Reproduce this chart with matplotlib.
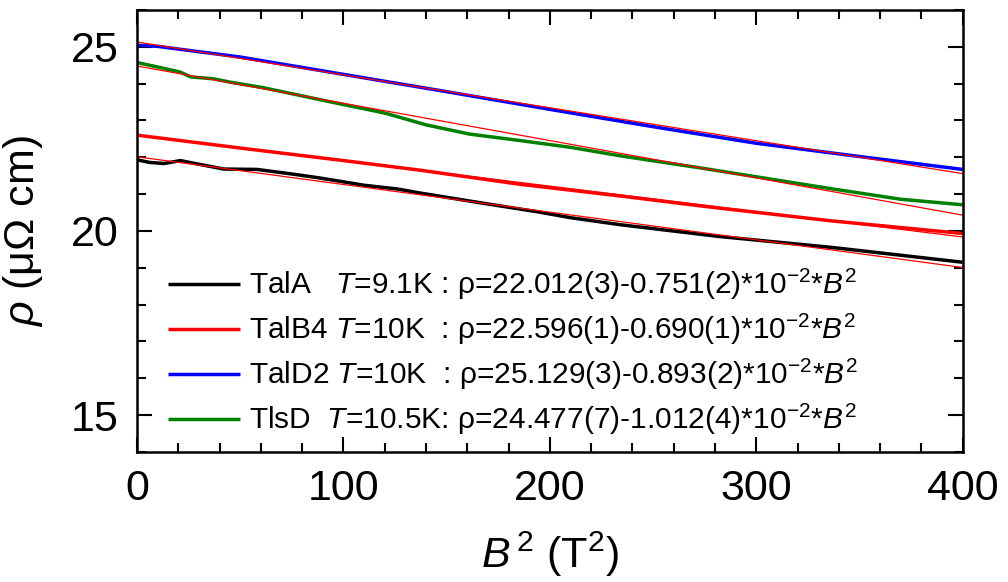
import numpy as np
import matplotlib.pyplot as plt
from matplotlib.ticker import MultipleLocator

plt.rcParams['font.family'] = ['Liberation Sans', 'DejaVu Sans']
plt.rcParams['mathtext.fontset'] = 'custom'
plt.rcParams['mathtext.rm'] = 'Liberation Sans'
plt.rcParams['mathtext.it'] = 'Liberation Sans:italic'
plt.rcParams['mathtext.bf'] = 'Liberation Sans:bold'

b2_tala = [0, 6, 13, 21, 29, 42, 58, 69, 77, 87, 97, 110, 126, 137, 169, 194, 210, 234, 273, 282, 337, 400]
rho_tala = [21.93, 21.86, 21.83, 21.91, 21.82, 21.68, 21.67, 21.59, 21.53, 21.45, 21.36, 21.24, 21.14,
            21.03, 20.74, 20.52, 20.36, 20.17, 19.91, 19.85, 19.55, 19.15]

b2_talb4 = [0, 20, 50, 100, 137, 185, 234, 273, 282, 337, 400]
rho_talb4 = [22.60, 22.46, 22.25, 21.91, 21.65, 21.27, 20.95, 20.68, 20.62, 20.27, 19.93]

b2_tald2 = [0, 10, 50, 100, 150, 200, 250, 300, 350, 400]
rho_tald2 = [25.04, 25.01, 24.72, 24.25, 23.78, 23.30, 22.83, 22.38, 22.02, 21.67]

b2_tlsd = [0, 10, 21, 26, 37, 45, 61, 94, 120, 140, 161, 186, 210, 234, 273, 282, 337, 370, 400]
rho_tlsd = [24.57, 24.45, 24.31, 24.18, 24.13, 24.04, 23.89, 23.50, 23.20, 22.88, 22.63, 22.45,
            22.27, 22.04, 21.71, 21.63, 21.14, 20.86, 20.71]

# fit parameters rho = a - b*1e-2*B^2
fit_a = [22.012, 22.596, 25.129, 24.477]
fit_b = [0.751, 0.690, 0.893, 1.012]

labels = [
    "TalA   $T$=9.1K : ρ=22.012(3)-0.751(2)*$10^{-2}$*$B^2$",
    "TalB4 $T$=10K  : ρ=22.596(1)-0.690(1)*$10^{-2}$*$B^2$",
    "TalD2 $T$=10K  : ρ=25.129(3)-0.893(2)*$10^{-2}$*$B^2$",
    "TlsD  $T$=10.5K: ρ=24.477(7)-1.012(4)*$10^{-2}$*$B^2$",
]
colors = ['black', '#ff0000', '#0000ff', '#008000']

fig = plt.figure(figsize=(10.08, 5.82), dpi=100)
ax = fig.add_axes([0.136, 0.2234, 0.819, 0.7596])

curves = [(b2_tala, rho_tala), (b2_talb4, rho_talb4), (b2_tald2, rho_tald2), (b2_tlsd, rho_tlsd)]
for (x, y), c, lab in zip(curves, colors, labels):
    ax.plot(x, y, color=c, lw=2.5, label=lab, solid_capstyle='butt')

xf = np.linspace(0, 400, 2)
for a, b in zip(fit_a, fit_b):
    ax.plot(xf, a - b * 1e-2 * xf, color='#ff0000', lw=0.9)

ax.set_xlim(0, 400)
ax.set_ylim(14, 26)
ax.xaxis.set_major_locator(MultipleLocator(100))
ax.xaxis.set_minor_locator(MultipleLocator(20))
ax.yaxis.set_major_locator(MultipleLocator(5))
ax.yaxis.set_minor_locator(MultipleLocator(1))
ax.tick_params(which='both', direction='in', top=True, right=True, width=1.5)
ax.tick_params(which='major', length=11, labelsize=31)
ax.tick_params(which='minor', length=6.5)
ax.tick_params(axis='x', pad=12)
ax.tick_params(axis='y', pad=13)
for s in ax.spines.values():
    s.set_linewidth(1.8)

ax.set_xlabel("$B^{\\,2}$ (T$^2$)", fontsize=31)
ax.set_ylabel("$\\rho$ (μΩ cm)", fontsize=31)
ax.xaxis.set_label_coords(0.5, -0.175)
ax.yaxis.set_label_coords(-0.112, 0.5)

ax.legend(loc='lower left', bbox_to_anchor=(0.0375, 0.033), frameon=False, fontsize=21.5,
          handlelength=2.4, handletextpad=0.3, labelspacing=0.33, borderpad=0, borderaxespad=0)

fig.savefig('out.png', dpi=100)
